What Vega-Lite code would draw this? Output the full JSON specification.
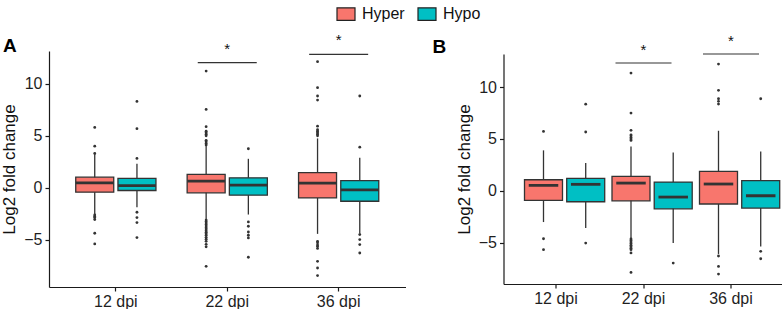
{
  "$schema": "https://vega.github.io/schema/vega-lite/v6.json",
  "padding": {"left": 0, "top": 4, "right": 0, "bottom": 0},
  "config": {
    "font": "Liberation Sans",
    "view": {"stroke": null},
    "axis": {"grid": false, "domainColor": "#1a1a1a", "domainWidth": 1.2, "tickColor": "#1a1a1a", "tickWidth": 1.2, "tickSize": 4, "labelColor": "#1f1f1f", "labelFontSize": 16, "labelPadding": 2, "titleColor": "#111111", "titleFontSize": 17, "titleFontWeight": "normal", "titlePadding": 5},
    "legend": {"labelFontSize": 16, "labelColor": "#111111", "symbolStrokeColor": "#222222", "symbolStrokeWidth": 1.2, "symbolOpacity": 1},
    "title": {"fontSize": 19, "fontWeight": "bold", "color": "#000000", "anchor": "start", "frame": "group"}
  },
  "datasets": {
    "boxA": [
      {"dpi": "12 dpi", "group": "Hyper", "lo": -2.51, "q1": -0.42, "med": 0.48, "q3": 1.02, "hi": 3.24},
      {"dpi": "12 dpi", "group": "Hypo", "lo": -1.87, "q1": -0.26, "med": 0.22, "q3": 0.90, "hi": 2.31},
      {"dpi": "22 dpi", "group": "Hyper", "lo": -3.0, "q1": -0.48, "med": 0.64, "q3": 1.29, "hi": 4.03},
      {"dpi": "22 dpi", "group": "Hypo", "lo": -2.57, "q1": -0.71, "med": 0.25, "q3": 0.96, "hi": 2.79},
      {"dpi": "36 dpi", "group": "Hyper", "lo": -4.43, "q1": -0.97, "med": 0.45, "q3": 1.47, "hi": 4.75},
      {"dpi": "36 dpi", "group": "Hypo", "lo": -4.43, "q1": -1.29, "med": -0.2, "q3": 0.70, "hi": 2.89}
    ],
    "outA": [
      {"dpi": "12 dpi", "group": "Hyper", "value": 5.81},
      {"dpi": "12 dpi", "group": "Hyper", "value": 4.01},
      {"dpi": "12 dpi", "group": "Hyper", "value": 3.3},
      {"dpi": "12 dpi", "group": "Hyper", "value": -2.61},
      {"dpi": "12 dpi", "group": "Hyper", "value": -2.76},
      {"dpi": "12 dpi", "group": "Hyper", "value": -2.85},
      {"dpi": "12 dpi", "group": "Hyper", "value": -3.05},
      {"dpi": "12 dpi", "group": "Hyper", "value": -4.37},
      {"dpi": "12 dpi", "group": "Hyper", "value": -5.4},
      {"dpi": "12 dpi", "group": "Hypo", "value": 8.31},
      {"dpi": "12 dpi", "group": "Hypo", "value": 5.69},
      {"dpi": "12 dpi", "group": "Hypo", "value": 2.83},
      {"dpi": "12 dpi", "group": "Hypo", "value": -2.35},
      {"dpi": "12 dpi", "group": "Hypo", "value": -2.86},
      {"dpi": "12 dpi", "group": "Hypo", "value": -3.34},
      {"dpi": "12 dpi", "group": "Hypo", "value": -4.79},
      {"dpi": "22 dpi", "group": "Hyper", "value": 4.13},
      {"dpi": "22 dpi", "group": "Hyper", "value": 4.27},
      {"dpi": "22 dpi", "group": "Hyper", "value": 4.42},
      {"dpi": "22 dpi", "group": "Hyper", "value": 4.57},
      {"dpi": "22 dpi", "group": "Hyper", "value": 5.0},
      {"dpi": "22 dpi", "group": "Hyper", "value": 5.15},
      {"dpi": "22 dpi", "group": "Hyper", "value": 5.3},
      {"dpi": "22 dpi", "group": "Hyper", "value": 5.44},
      {"dpi": "22 dpi", "group": "Hyper", "value": 5.88},
      {"dpi": "22 dpi", "group": "Hyper", "value": 7.54},
      {"dpi": "22 dpi", "group": "Hyper", "value": 11.23},
      {"dpi": "22 dpi", "group": "Hyper", "value": -3.1},
      {"dpi": "22 dpi", "group": "Hyper", "value": -3.25},
      {"dpi": "22 dpi", "group": "Hyper", "value": -3.39},
      {"dpi": "22 dpi", "group": "Hyper", "value": -3.54},
      {"dpi": "22 dpi", "group": "Hyper", "value": -3.68},
      {"dpi": "22 dpi", "group": "Hyper", "value": -3.83},
      {"dpi": "22 dpi", "group": "Hyper", "value": -3.97},
      {"dpi": "22 dpi", "group": "Hyper", "value": -4.12},
      {"dpi": "22 dpi", "group": "Hyper", "value": -4.27},
      {"dpi": "22 dpi", "group": "Hyper", "value": -4.41},
      {"dpi": "22 dpi", "group": "Hyper", "value": -4.56},
      {"dpi": "22 dpi", "group": "Hyper", "value": -4.76},
      {"dpi": "22 dpi", "group": "Hyper", "value": -4.95},
      {"dpi": "22 dpi", "group": "Hyper", "value": -5.15},
      {"dpi": "22 dpi", "group": "Hyper", "value": -5.44},
      {"dpi": "22 dpi", "group": "Hyper", "value": -5.68},
      {"dpi": "22 dpi", "group": "Hyper", "value": -7.55},
      {"dpi": "22 dpi", "group": "Hypo", "value": 3.76},
      {"dpi": "22 dpi", "group": "Hypo", "value": -3.28},
      {"dpi": "22 dpi", "group": "Hypo", "value": -3.7},
      {"dpi": "22 dpi", "group": "Hypo", "value": -4.25},
      {"dpi": "22 dpi", "group": "Hypo", "value": -4.56},
      {"dpi": "22 dpi", "group": "Hypo", "value": -4.82},
      {"dpi": "22 dpi", "group": "Hypo", "value": -6.68},
      {"dpi": "36 dpi", "group": "Hyper", "value": 5.0},
      {"dpi": "36 dpi", "group": "Hyper", "value": 5.15},
      {"dpi": "36 dpi", "group": "Hyper", "value": 5.3},
      {"dpi": "36 dpi", "group": "Hyper", "value": 5.44},
      {"dpi": "36 dpi", "group": "Hyper", "value": 5.59},
      {"dpi": "36 dpi", "group": "Hyper", "value": 5.93},
      {"dpi": "36 dpi", "group": "Hyper", "value": 8.44},
      {"dpi": "36 dpi", "group": "Hyper", "value": 8.83},
      {"dpi": "36 dpi", "group": "Hyper", "value": 9.63},
      {"dpi": "36 dpi", "group": "Hyper", "value": 12.13},
      {"dpi": "36 dpi", "group": "Hyper", "value": -5.15},
      {"dpi": "36 dpi", "group": "Hyper", "value": -5.29},
      {"dpi": "36 dpi", "group": "Hyper", "value": -5.49},
      {"dpi": "36 dpi", "group": "Hyper", "value": -5.63},
      {"dpi": "36 dpi", "group": "Hyper", "value": -5.83},
      {"dpi": "36 dpi", "group": "Hyper", "value": -7.07},
      {"dpi": "36 dpi", "group": "Hyper", "value": -7.71},
      {"dpi": "36 dpi", "group": "Hyper", "value": -8.44},
      {"dpi": "36 dpi", "group": "Hypo", "value": 3.91},
      {"dpi": "36 dpi", "group": "Hypo", "value": 8.83},
      {"dpi": "36 dpi", "group": "Hypo", "value": -4.5},
      {"dpi": "36 dpi", "group": "Hypo", "value": -4.98},
      {"dpi": "36 dpi", "group": "Hypo", "value": -5.46},
      {"dpi": "36 dpi", "group": "Hypo", "value": -6.27}
    ],
    "sigA": [
      {"dpi": "22 dpi", "value": 12.04},
      {"dpi": "36 dpi", "value": 12.84}
    ],
    "boxB": [
      {"dpi": "12 dpi", "group": "Hyper", "lo": -3.02, "q1": -0.93, "med": 0.52, "q3": 1.06, "hi": 3.9},
      {"dpi": "12 dpi", "group": "Hypo", "lo": -3.6, "q1": -1.06, "med": 0.62, "q3": 1.2, "hi": 2.67},
      {"dpi": "22 dpi", "group": "Hyper", "lo": -4.57, "q1": -0.97, "med": 0.74, "q3": 1.39, "hi": 4.28},
      {"dpi": "22 dpi", "group": "Hypo", "lo": -5.05, "q1": -1.74, "med": -0.61, "q3": 0.84, "hi": 3.7},
      {"dpi": "36 dpi", "group": "Hyper", "lo": -6.1, "q1": -1.28, "med": 0.65, "q3": 1.87, "hi": 5.79},
      {"dpi": "36 dpi", "group": "Hypo", "lo": -5.37, "q1": -1.67, "med": -0.48, "q3": 0.97, "hi": 3.8}
    ],
    "outB": [
      {"dpi": "12 dpi", "group": "Hyper", "value": 5.73},
      {"dpi": "12 dpi", "group": "Hyper", "value": -4.63},
      {"dpi": "12 dpi", "group": "Hyper", "value": -5.69},
      {"dpi": "12 dpi", "group": "Hypo", "value": 8.36},
      {"dpi": "12 dpi", "group": "Hypo", "value": 5.67},
      {"dpi": "12 dpi", "group": "Hypo", "value": -5.05},
      {"dpi": "22 dpi", "group": "Hyper", "value": 4.86},
      {"dpi": "22 dpi", "group": "Hyper", "value": 5.0},
      {"dpi": "22 dpi", "group": "Hyper", "value": 5.15},
      {"dpi": "22 dpi", "group": "Hyper", "value": 5.3},
      {"dpi": "22 dpi", "group": "Hyper", "value": 5.4},
      {"dpi": "22 dpi", "group": "Hyper", "value": 5.83},
      {"dpi": "22 dpi", "group": "Hyper", "value": 7.5},
      {"dpi": "22 dpi", "group": "Hyper", "value": 11.36},
      {"dpi": "22 dpi", "group": "Hyper", "value": -4.65},
      {"dpi": "22 dpi", "group": "Hyper", "value": -4.8},
      {"dpi": "22 dpi", "group": "Hyper", "value": -4.95},
      {"dpi": "22 dpi", "group": "Hyper", "value": -5.1},
      {"dpi": "22 dpi", "group": "Hyper", "value": -5.25},
      {"dpi": "22 dpi", "group": "Hyper", "value": -5.4},
      {"dpi": "22 dpi", "group": "Hyper", "value": -5.55},
      {"dpi": "22 dpi", "group": "Hyper", "value": -5.69},
      {"dpi": "22 dpi", "group": "Hyper", "value": -6.0},
      {"dpi": "22 dpi", "group": "Hyper", "value": -7.88},
      {"dpi": "22 dpi", "group": "Hypo", "value": -6.98},
      {"dpi": "36 dpi", "group": "Hyper", "value": 12.23},
      {"dpi": "36 dpi", "group": "Hyper", "value": 9.69},
      {"dpi": "36 dpi", "group": "Hyper", "value": 8.88},
      {"dpi": "36 dpi", "group": "Hyper", "value": 8.63},
      {"dpi": "36 dpi", "group": "Hyper", "value": 8.37},
      {"dpi": "36 dpi", "group": "Hyper", "value": -6.3},
      {"dpi": "36 dpi", "group": "Hyper", "value": -7.3},
      {"dpi": "36 dpi", "group": "Hyper", "value": -8.04},
      {"dpi": "36 dpi", "group": "Hypo", "value": 8.88},
      {"dpi": "36 dpi", "group": "Hypo", "value": -5.85},
      {"dpi": "36 dpi", "group": "Hypo", "value": -6.56}
    ],
    "sigB": [
      {"dpi": "22 dpi", "value": 12.33},
      {"dpi": "36 dpi", "value": 13.2}
    ]
  },
  "hconcat": [
    {
      "width": 356.5,
      "height": 236,
      "title": {"text": "A", "dx": -46, "dy": 24, "offset": 1},
      "layer": [
        {
          "data": {"name": "boxA"},
          "mark": {"type": "rule", "color": "#333333", "strokeWidth": 1.3},
          "encoding": {
            "x": {"field": "dpi", "type": "nominal", "sort": ["12 dpi", "22 dpi", "36 dpi"], "scale": {"paddingInner": 0.28, "paddingOuter": 0.24}, "axis": {"title": null, "labelAngle": 0}},
            "xOffset": {"field": "group", "type": "nominal", "sort": ["Hyper", "Hypo"], "scale": {"paddingInner": 0.1, "paddingOuter": 0}},
            "y": {"field": "lo", "type": "quantitative", "title": "Log2 fold change", "scale": {"domain": [-9.54, 13.16], "nice": false, "zero": false}, "axis": {"values": [-5, 0, 5, 10], "labelPadding": 3}},
            "y2": {"field": "hi"}
          }
        },
        {
          "data": {"name": "boxA"},
          "mark": {"type": "bar", "stroke": "#333333", "strokeWidth": 1.3},
          "encoding": {
            "x": {"field": "dpi", "type": "nominal", "sort": ["12 dpi", "22 dpi", "36 dpi"]},
            "xOffset": {"field": "group", "type": "nominal", "sort": ["Hyper", "Hypo"]},
            "y": {"field": "q1", "type": "quantitative", "title": "Log2 fold change"},
            "y2": {"field": "q3"},
            "color": {"field": "group", "type": "nominal", "scale": {"domain": ["Hyper", "Hypo"], "range": ["#F8766D", "#00BFC4"]}, "legend": {"orient": "none", "legendX": 287, "legendY": -47, "direction": "horizontal", "title": null, "symbolType": "M-1,-0.7H1V0.7H-1Z", "symbolSize": 324, "labelOffset": 6, "columnPadding": 10}}
          }
        },
        {
          "data": {"name": "boxA"},
          "mark": {"type": "tick", "color": "#333333", "thickness": 2.8, "size": 37.7, "orient": "horizontal", "opacity": 1},
          "encoding": {
            "x": {"field": "dpi", "type": "nominal", "sort": ["12 dpi", "22 dpi", "36 dpi"]},
            "xOffset": {"field": "group", "type": "nominal", "sort": ["Hyper", "Hypo"]},
            "y": {"field": "med", "type": "quantitative", "title": "Log2 fold change"}
          }
        },
        {
          "data": {"name": "outA"},
          "mark": {"type": "point", "filled": true, "color": "#333333", "size": 8, "opacity": 1},
          "encoding": {
            "x": {"field": "dpi", "type": "nominal", "sort": ["12 dpi", "22 dpi", "36 dpi"]},
            "xOffset": {"field": "group", "type": "nominal", "sort": ["Hyper", "Hypo"]},
            "y": {"field": "value", "type": "quantitative", "title": "Log2 fold change"}
          }
        },
        {
          "data": {"name": "sigA"},
          "mark": {"type": "tick", "color": "#333333", "thickness": 1.2, "size": 59, "orient": "horizontal", "opacity": 1},
          "encoding": {
            "x": {"field": "dpi", "type": "nominal", "sort": ["12 dpi", "22 dpi", "36 dpi"]},
            "y": {"field": "value", "type": "quantitative", "title": "Log2 fold change"}
          }
        },
        {
          "data": {"name": "sigA"},
          "mark": {"type": "text", "text": "*", "fontSize": 15, "dy": -9, "baseline": "alphabetic", "color": "#111111"},
          "encoding": {
            "x": {"field": "dpi", "type": "nominal", "sort": ["12 dpi", "22 dpi", "36 dpi"]},
            "y": {"field": "value", "type": "quantitative", "title": "Log2 fold change"}
          }
        }
      ]
    },
    {
      "width": 280,
      "height": 230,
      "title": {"text": "B", "dx": -71, "dy": 24, "offset": 1},
      "layer": [
        {
          "data": {"name": "boxB"},
          "mark": {"type": "rule", "color": "#333333", "strokeWidth": 1.3},
          "encoding": {
            "x": {"field": "dpi", "type": "nominal", "sort": ["12 dpi", "22 dpi", "36 dpi"], "scale": {"paddingInner": 0.28, "paddingOuter": 0.24}, "axis": {"title": null, "labelAngle": 0}},
            "xOffset": {"field": "group", "type": "nominal", "sort": ["Hyper", "Hypo"], "scale": {"paddingInner": 0.1, "paddingOuter": 0}},
            "y": {"field": "lo", "type": "quantitative", "title": "Log2 fold change", "scale": {"domain": [-9.0, 13.2], "nice": false, "zero": false}, "axis": {"values": [-5, 0, 5, 10], "labelPadding": 3}},
            "y2": {"field": "hi"}
          }
        },
        {
          "data": {"name": "boxB"},
          "mark": {"type": "bar", "stroke": "#333333", "strokeWidth": 1.3},
          "encoding": {
            "x": {"field": "dpi", "type": "nominal", "sort": ["12 dpi", "22 dpi", "36 dpi"]},
            "xOffset": {"field": "group", "type": "nominal", "sort": ["Hyper", "Hypo"]},
            "y": {"field": "q1", "type": "quantitative", "title": "Log2 fold change"},
            "y2": {"field": "q3"},
            "color": {"field": "group", "type": "nominal", "scale": {"domain": ["Hyper", "Hypo"], "range": ["#F8766D", "#00BFC4"]}, "legend": {"orient": "none", "legendX": 287, "legendY": -47, "direction": "horizontal", "title": null, "symbolType": "M-1,-0.7H1V0.7H-1Z", "symbolSize": 324, "labelOffset": 6, "columnPadding": 10}}
          }
        },
        {
          "data": {"name": "boxB"},
          "mark": {"type": "tick", "color": "#333333", "thickness": 2.8, "size": 29.5, "orient": "horizontal", "opacity": 1},
          "encoding": {
            "x": {"field": "dpi", "type": "nominal", "sort": ["12 dpi", "22 dpi", "36 dpi"]},
            "xOffset": {"field": "group", "type": "nominal", "sort": ["Hyper", "Hypo"]},
            "y": {"field": "med", "type": "quantitative", "title": "Log2 fold change"}
          }
        },
        {
          "data": {"name": "outB"},
          "mark": {"type": "point", "filled": true, "color": "#333333", "size": 8, "opacity": 1},
          "encoding": {
            "x": {"field": "dpi", "type": "nominal", "sort": ["12 dpi", "22 dpi", "36 dpi"]},
            "xOffset": {"field": "group", "type": "nominal", "sort": ["Hyper", "Hypo"]},
            "y": {"field": "value", "type": "quantitative", "title": "Log2 fold change"}
          }
        },
        {
          "data": {"name": "sigB"},
          "mark": {"type": "tick", "color": "#333333", "thickness": 1.2, "size": 56, "orient": "horizontal", "opacity": 1},
          "encoding": {
            "x": {"field": "dpi", "type": "nominal", "sort": ["12 dpi", "22 dpi", "36 dpi"]},
            "y": {"field": "value", "type": "quantitative", "title": "Log2 fold change"}
          }
        },
        {
          "data": {"name": "sigB"},
          "mark": {"type": "text", "text": "*", "fontSize": 15, "dy": -8, "baseline": "alphabetic", "color": "#111111"},
          "encoding": {
            "x": {"field": "dpi", "type": "nominal", "sort": ["12 dpi", "22 dpi", "36 dpi"]},
            "y": {"field": "value", "type": "quantitative", "title": "Log2 fold change"}
          }
        }
      ]
    }
  ],
  "bounds": "flush",
  "spacing": 97.5,
  "center": true
}
